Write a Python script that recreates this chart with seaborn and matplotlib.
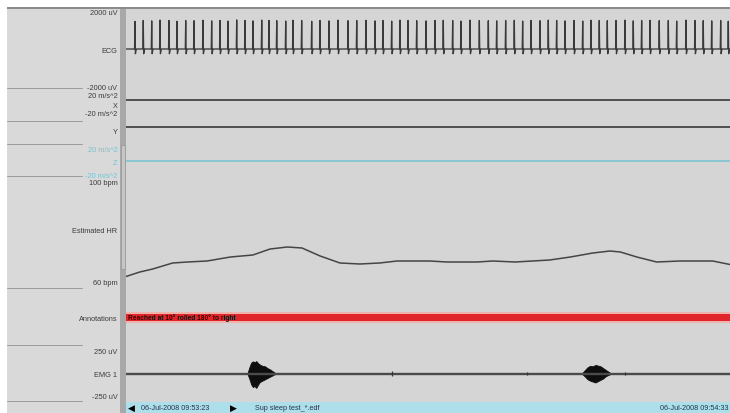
import numpy as np
import pandas as pd
import matplotlib
matplotlib.use("Agg")
import matplotlib.pyplot as plt
import seaborn as sns
from matplotlib.patches import Rectangle

# ---------------- data ----------------
window_start = "06-Jul-2008 09:53:23"
window_end = "06-Jul-2008 09:54:33"
file_name = "Sup sleep test_*.edf"
window_seconds = 70

# ECG R-peak times (s) and amplitudes (uV)
ecg_beat_t = [1.04, 2.00, 2.98, 3.94, 4.98, 5.91, 6.92, 7.88, 8.92, 9.93,
              10.89, 11.82, 12.83, 13.79, 14.72, 15.73, 16.57, 17.47, 18.51, 19.35,
              20.36, 21.52, 22.48, 23.53, 24.57, 25.73, 26.74, 27.81, 28.86, 29.78,
              30.79, 31.75, 32.68, 33.69, 34.77, 35.81, 36.77, 37.86, 38.82, 39.87,
              40.95, 41.99, 42.96, 44.00, 45.00, 45.97, 46.94, 47.98, 48.94, 49.91,
              50.88, 51.92, 52.93, 53.89, 54.85, 55.78, 56.79, 57.83, 58.79, 59.76,
              60.73, 61.80, 62.85, 63.82, 64.90, 65.94, 66.90, 67.88, 68.92, 69.80]
ecg_beat_amp = [1450, 1500, 1480, 1520, 1500, 1460, 1500, 1490, 1510, 1480,
                1500, 1470, 1530, 1500, 1480, 1520, 1500, 1490, 1470, 1510,
                1500, 1460, 1500, 1480, 1520, 1490, 1500, 1510, 1480, 1500,
                1470, 1520, 1500, 1490, 1480, 1500, 1510, 1500, 1470, 1520,
                1500, 1490, 1480, 1500, 1510, 1470, 1500, 1490, 1520, 1500,
                1480, 1500, 1470, 1510, 1500, 1490, 1500, 1520, 1480, 1500,
                1510, 1490, 1500, 1470, 1520, 1500, 1490, 1480, 1500, 1460]
ecg_s_dip = -250

# accelerometer (m/s^2)
accel_t = [0, 70]
accel_x = [9.8, 9.8]
accel_y = [5.6, 5.6]
accel_z = [0.4, 0.4]

# estimated heart rate (bpm)
hr_t = [0.0, 1.6, 3.1, 5.4, 7.1, 9.4, 12.1, 14.7, 16.7, 18.7, 20.4, 22.5, 24.8,
        27.1, 29.4, 31.4, 35.2, 37.2, 40.7, 42.5, 45.1, 49.1, 51.5, 54.1, 56.1,
        57.3, 59.2, 61.5, 64.2, 68.0, 70.0]
hr_bpm = [62.2, 64.0, 65.2, 67.6, 68.0, 68.4, 70.0, 70.8, 73.2, 74.0, 73.6, 70.4,
          67.6, 67.2, 67.6, 68.4, 68.4, 68.0, 68.0, 68.4, 68.0, 68.8, 70.0, 71.6,
          72.4, 72.0, 70.0, 68.0, 68.4, 68.4, 67.0]

# annotations
annot_start = [0]
annot_end = [70]
annot_text = ["Reached at 10° rolled 180° to right"]

# EMG (uV)
emg_t = [0, 70]
emg_v = [0, 0]
burst1_t = [14.1, 14.3, 14.5, 14.7, 14.9, 15.1, 15.3, 15.5, 15.8, 16.1, 16.4, 16.7, 17.0, 17.3]
burst1_up = [10, 70, 120, 135, 125, 138, 115, 100, 85, 80, 60, 45, 25, 5]
burst1_lo = [10, 60, 120, 150, 140, 160, 125, 95, 80, 65, 50, 35, 20, 5]
burst2_t = [52.9, 53.2, 53.5, 53.8, 54.1, 54.4, 54.7, 55.0, 55.3, 55.6, 56.1]
burst2_up = [8, 40, 70, 85, 80, 95, 88, 80, 60, 40, 8]
burst2_lo = [8, 35, 65, 80, 90, 100, 85, 70, 55, 30, 8]
emg_blip_t = [30.8, 46.5, 57.8]
emg_blip_amp = [25, 20, 20]

# channel labels
ecg_ticks, ecg_labels = [2000, 0, -2000], ["2000 uV", "ECG", "-2000 uV"]
x_ticks, x_labels = [20, 0, -20], ["20 m/s^2", "X", "-20 m/s^2"]
y_ticks, y_labels = [0], ["Y"]
z_ticks, z_labels = [20, 0, -20], ["20 m/s^2", "Z", "-20 m/s^2"]
hr_ticks, hr_labels = [100, 80.8, 60], ["100 bpm", "Estimated HR", "60 bpm"]
emg_ticks, emg_labels = [250, 0, -250], ["250 uV", "EMG 1", "-250 uV"]

# ---------------- styling / layout ----------------
sns.set_theme(style="white")
plt.rcParams['font.family'] = ['Liberation Sans', 'DejaVu Sans']

W, H = 730, 414
fig = plt.figure(figsize=(W / 100, H / 100), dpi=100, facecolor="white")

def rect(x0, y0, x1, y1):
    return [x0 / W, 1 - y1 / H, (x1 - x0) / W, (y1 - y0) / H]

def ylim_from(p_top, p_bot, v1, p1, v2, p2):
    s = (p2 - p1) / (v1 - v2)
    return (v1 - (p_bot - p1) / s, v1 - (p_top - p1) / s)

PANEL_BG = "#d5d5d5"
LABEL_BG = "#d9d9d9"
TRACE = "#454545"
LABEL_COL = "#3c3c3c"
CYAN = "#74c3cf"

# chrome (pixel coordinates)
bg = fig.add_axes([0, 0, 1, 1], zorder=0)
bg.set_xlim(0, W)
bg.set_ylim(H, 0)
bg.axis("off")
bg.add_patch(Rectangle((7, 9), 723, 405, fc=PANEL_BG, ec="none"))
bg.add_patch(Rectangle((7, 9), 113, 405, fc=LABEL_BG, ec="none"))
bg.add_patch(Rectangle((120, 9), 6, 405, fc="#a8a8a8", ec="none"))
bg.add_patch(Rectangle((121.3, 146), 3.4, 124, fc="#c6c6c6", ec="#8c8c8c", lw=0.4))
bg.add_patch(Rectangle((126, 403), 604, 11, fc="#acdfe9", ec="none"))
for yy in [88.5, 122, 144.5, 177, 288.5, 345.5, 402]:
    bg.plot([7, 82], [yy, yy], color="#9c9c9c", lw=0.7)

XL = 126
XR = 730

def panel(top, bot):
    ax = fig.add_axes(rect(XL, top, XR, bot), zorder=2)
    ax.set_facecolor("none")
    for s in ax.spines.values():
        s.set_visible(False)
    return ax

def finish(ax, ylim, ticks, labels):
    ax.set_xlim(0, window_seconds)
    ax.set_xticks([])
    ax.set_xlabel("")
    ax.set_ylabel("")
    ax.set_ylim(*ylim)
    ax.set_yticks(ticks, labels)
    ax.tick_params(axis="y", length=0, pad=6.3, labelsize=5.3, labelcolor=LABEL_COL)

# ECG
ecg_rows = [(0.0, 0.0)]
for t, a in zip(ecg_beat_t, ecg_beat_amp):
    ecg_rows += [(t - 0.05, 0.0), (t, a), (t + 0.05, ecg_s_dip), (t + 0.15, 0.0)]
ecg_rows.append((float(window_seconds), 0.0))
ecg_df = pd.DataFrame(ecg_rows, columns=["t", "uV"])
ax_ecg = panel(9.5, 89)
sns.lineplot(data=ecg_df, x="t", y="uV", ax=ax_ecg, sort=False, estimator=None,
             color="#3a3a3a", lw=0.95)
finish(ax_ecg, ylim_from(9.5, 89, 2000, 12, -2000, 88), ecg_ticks, ecg_labels)

# accelerometers
ax_x = panel(89, 122)
sns.lineplot(x=accel_t, y=accel_x, ax=ax_x, color=TRACE, lw=1.3)
finish(ax_x, ylim_from(89, 122, 20, 96, -20, 114), x_ticks, x_labels)

ax_y = panel(122, 145)
sns.lineplot(x=accel_t, y=accel_y, ax=ax_y, color=TRACE, lw=1.3)
finish(ax_y, ylim_from(122, 145, 20, 122, -20, 140), y_ticks, y_labels)

ax_z = panel(145, 178)
sns.lineplot(x=accel_t, y=accel_z, ax=ax_z, color=CYAN, lw=1.1)
finish(ax_z, ylim_from(145, 178, 20, 150, -20, 175), z_ticks, z_labels)
for lab in ax_z.get_yticklabels():
    lab.set_color(CYAN)

# heart rate
ax_hr = panel(178, 289)
sns.lineplot(x=hr_t, y=hr_bpm, ax=ax_hr, color=TRACE, lw=1.1)
finish(ax_hr, ylim_from(178, 289, 100, 183, 60, 283), hr_ticks, hr_labels)

# annotations
ax_an = panel(289, 345)
bar_y = 345 - 318.5
for s, e, txt in zip(annot_start, annot_end, annot_text):
    ax_an.barh(bar_y, e - s, left=s, height=11, color="#eeb3aa", linewidth=0)
    ax_an.barh(bar_y, e - s, left=s, height=7, color="#e0262b", linewidth=0)
    ax_an.text(s + 0.2, bar_y, txt, fontsize=4.8, color="#2a0808",
               va="center", ha="left", fontweight="bold")
finish(ax_an, (0, 56), [bar_y], ["Annotations"])

# EMG
ax_emg = panel(345, 402)
sns.lineplot(x=emg_t, y=emg_v, ax=ax_emg, color="#4a4a4a", lw=1.7)
for bt, up, lo in [(burst1_t, burst1_up, burst1_lo), (burst2_t, burst2_up, burst2_lo)]:
    ax_emg.fill_between(bt, [-v for v in lo], up, color="#0e0e0e", lw=0.6, ec="#0e0e0e")
ax_emg.vlines(emg_blip_t, [-a for a in emg_blip_amp], emg_blip_amp, color="#333333", lw=0.9)
finish(ax_emg, ylim_from(345, 402, 250, 352, -250, 397), emg_ticks, emg_labels)

# navigation bar texts
bg.text(128, 408.2, "◀", fontsize=6.5, color="black", va="center", ha="left",
        family=["DejaVu Sans"])
bg.text(141, 408.6, window_start, fontsize=5.2, color="#24364a", va="center", ha="left")
bg.text(230, 408.2, "▶", fontsize=6.5, color="black", va="center", ha="left",
        family=["DejaVu Sans"])
bg.text(255, 408.6, file_name, fontsize=5.2, color="#24364a", va="center", ha="left")
bg.text(729, 408.6, window_end, fontsize=5.2, color="#24364a", va="center", ha="right")

# top white border (cuts the top label like the screenshot)
top = fig.add_axes(rect(0, 0, W, 9.5), zorder=5)
top.set_xlim(0, W)
top.set_ylim(9.5, 0)
top.axis("off")
top.add_patch(Rectangle((0, 0), W, 8.3, fc="white", ec="none"))
top.add_patch(Rectangle((7, 8.3), W - 7, 1.2, fc="#8a8a8a", ec="none"))

fig.savefig("out.png", dpi=100, facecolor="white")
